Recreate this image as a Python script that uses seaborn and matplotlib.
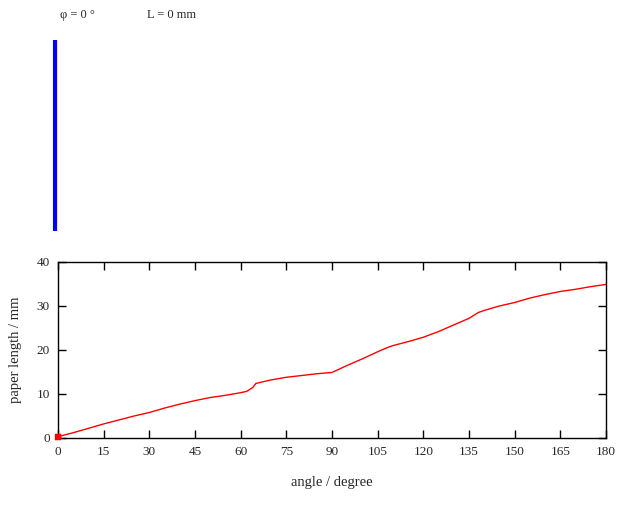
import matplotlib
matplotlib.use("Agg")
import pandas as pd
import matplotlib.pyplot as plt
import seaborn as sns

# curve
angle = [0, 5, 10, 15, 20, 25, 30, 35, 40, 45, 50, 55, 60, 62, 64, 65,
         70, 75, 80, 85, 90, 95, 100, 105, 108, 110, 115, 120, 125, 130,
         135, 138, 140, 145, 150, 155, 160, 165, 170, 175, 180]
paper_len = [0.3, 1.2, 2.2, 3.2, 4.1, 5.0, 5.8, 6.8, 7.7, 8.5, 9.2, 9.7,
             10.3, 10.6, 11.5, 12.4, 13.2, 13.8, 14.2, 14.6, 14.9, 16.5,
             18.0, 19.6, 20.5, 21.0, 21.9, 22.9, 24.2, 25.7, 27.2, 28.5,
             29.0, 30.0, 30.8, 31.8, 32.6, 33.3, 33.8, 34.4, 34.9]

# current state
cur_angle = 0
cur_len = 0.3
paper_x = [0.5, 0.5]
paper_y = [0, 1]

sns.set_theme(style="white")
plt.rcParams['font.family'] = ['Liberation Serif', 'DejaVu Serif']

fig = plt.figure(figsize=(6.24, 5.12), dpi=100)

# top: the paper strip
ax0 = fig.add_axes([50/624, 281/512, 10/624, 191/512])
sns.lineplot(x=paper_x, y=paper_y, sort=False, estimator=None,
             color='#0000ff', lw=3, ax=ax0)
for ln in ax0.lines:
    ln.set_solid_capstyle('butt')
    ln.set_clip_on(False)
ax0.set_xlim(0, 1)
ax0.set_ylim(0, 1)
ax0.axis('off')
fig.text(60/624, 1 - 18/512, "\u03c6 = %d \u00b0" % cur_angle, fontsize=9)
fig.text(147/624, 1 - 18/512, "L = %d mm" % round(cur_len - 0.3), fontsize=9)

# bottom: paper length vs angle
ax = fig.add_axes([58/624, 74/512, 548/624, 176/512])
df = pd.DataFrame({'angle': angle, 'len': paper_len})
sns.lineplot(data=df, x='angle', y='len', color='red', lw=1, ax=ax)
sns.scatterplot(x=[cur_angle], y=[cur_len], color='red', marker='s', s=18,
                edgecolor='red', ax=ax, clip_on=False, zorder=5)
ax.set_xlim(0, 180)
ax.set_ylim(0, 40)
ax.set_xticks(range(0, 181, 15))
ax.set_yticks(range(0, 41, 10))
ax.tick_params(direction='in', length=6, width=1, color='black',
               top=True, right=True, bottom=True, left=True, labelsize=9.5,
               pad=6)
for s in ax.spines.values():
    s.set_color('black')
    s.set_linewidth(1)
ax.set_xlabel("angle / degree", fontsize=10.5, labelpad=13)
ax.set_ylabel("paper length / mm", fontsize=10.5, labelpad=10)

fig.savefig("out.png", dpi=100)
